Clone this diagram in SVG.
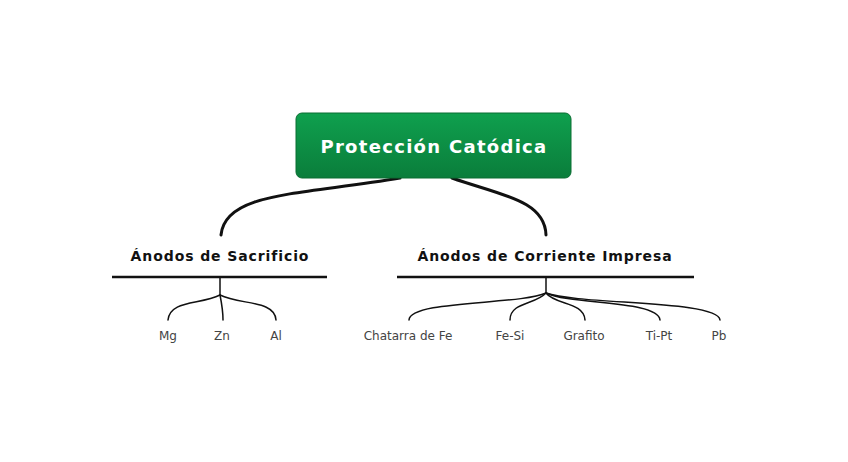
<svg xmlns="http://www.w3.org/2000/svg" width="848" height="462" viewBox="0 0 848 462">
<defs>
<linearGradient id="g" x1="0" y1="0" x2="0" y2="1">
<stop offset="0" stop-color="#0fa04e"/>
<stop offset="1" stop-color="#0a7d3b"/>
</linearGradient>
</defs>
<style>
.conn{fill:none;stroke:#111;stroke-linecap:round}
.main{stroke-width:3}
.sub{stroke-width:1.5}
.title{font-family:"DejaVu Sans",Verdana,sans-serif;font-weight:bold;font-size:18px;fill:#fff;text-anchor:middle;letter-spacing:1.3px}
.head{font-family:"DejaVu Sans",Verdana,sans-serif;font-weight:bold;font-size:14px;fill:#111;text-anchor:middle;letter-spacing:0.9px}
.leaf{font-family:"DejaVu Sans",Verdana,sans-serif;font-size:12px;fill:#444;text-anchor:middle}
.ul{stroke:#111;stroke-width:2.5}
</style>
<rect width="848" height="462" fill="#fff"/>
<g id="connectors">
<path class="conn main" d="M400 178 C300 195,225 192,221 235"/>
<path class="conn main" d="M452 178 C500 195,545 200,546 235"/>
<path class="conn sub" d="M220 277 V295"/>
<path class="conn sub" d="M220 295 C200 305,170 300,168 320"/>
<path class="conn sub" d="M220 295 C222 305,223 312,223 320"/>
<path class="conn sub" d="M220 295 C240 305,275 300,276 320"/>
<path class="conn sub" d="M546 277 V293"/>
<path class="conn sub" d="M546 293 C520 305,410 300,409 320"/>
<path class="conn sub" d="M546 293 C535 305,510 302,510 320"/>
<path class="conn sub" d="M546 293 C555 305,584 302,585 320"/>
<path class="conn sub" d="M546 293 C570 305,658 300,660 320"/>
<path class="conn sub" d="M546 293 C580 305,718 300,720 320"/>
</g>
<g id="root">
<rect x="296" y="113" width="275" height="65" rx="6" fill="url(#g)" stroke="#0a6e33" stroke-width="1"/>
<text class="title" x="434" y="153">Protección Catódica</text>
</g>
<g id="sacrificio">
<text class="head" x="220" y="261">Ánodos de Sacrificio</text>
<line class="ul" x1="112" y1="277" x2="327" y2="277"/>
</g>
<g id="corriente">
<text class="head" x="545" y="261">Ánodos de Corriente Impresa</text>
<line class="ul" x1="397" y1="277" x2="694" y2="277"/>
</g>
<g id="mg"><text class="leaf" x="168" y="340">Mg</text></g>
<g id="zn"><text class="leaf" x="222" y="340">Zn</text></g>
<g id="al"><text class="leaf" x="276" y="340">Al</text></g>
<g id="chatarra"><text class="leaf" x="408" y="340">Chatarra de Fe</text></g>
<g id="fesi"><text class="leaf" x="510" y="340">Fe-Si</text></g>
<g id="grafito"><text class="leaf" x="584" y="340">Grafito</text></g>
<g id="tipt"><text class="leaf" x="659" y="340">Ti-Pt</text></g>
<g id="pb"><text class="leaf" x="719" y="340">Pb</text></g>
</svg>
